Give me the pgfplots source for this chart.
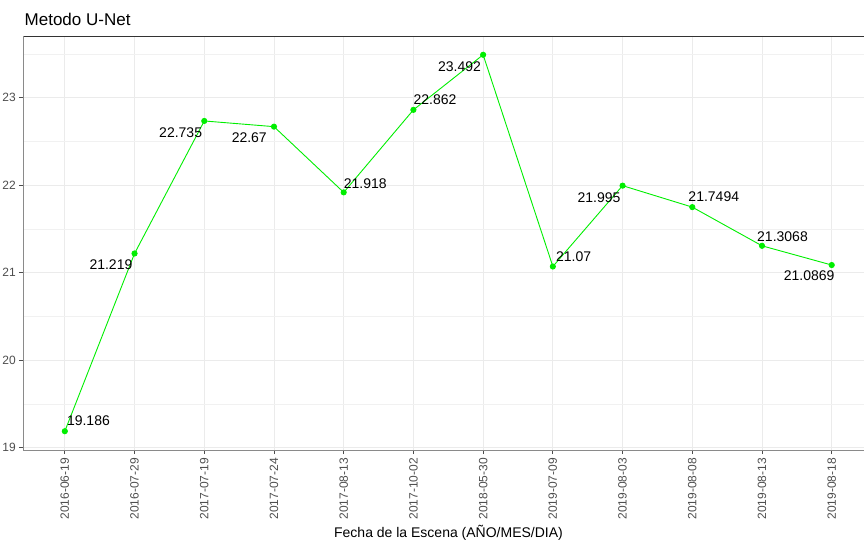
\documentclass[border=0pt]{standalone}
\usepackage{pgfplots}
\usepackage{pgfplotstable}
\pgfplotsset{compat=1.18}
\usepackage{fontspec}
\setmainfont{Liberation Sans}
\definecolor{gridc}{HTML}{EBEBEB}
\definecolor{tickc}{HTML}{4D4D4D}
\definecolor{ggreen}{HTML}{00EE00}
\definecolor{topc}{HTML}{333333}
\definecolor{sidec}{HTML}{8A8A8A}
\pgfplotstableread[col sep=comma]{
x,y,anc,dx,dy,lbl
0,19.186,south west,2,5,19.186
1,21.219,north east,-2,-6,21.219
2,22.735,north east,-2,-7,22.735
3,22.67,north east,-7,-6,22.67
4,21.918,south west,0,4,21.918
5,22.862,south west,0,5,22.862
6,23.492,north east,-2,-7,23.492
7,21.07,south west,3,5,21.07
8,21.995,north east,-2,-7,21.995
9,21.7494,south west,-4,5,21.7494
10,21.3068,south west,-5,4,21.3068
11,21.0869,north east,3,-5,21.0869
}\data
\begin{document}
\begin{tikzpicture}
\begin{axis}[
  name=ax, at={(0,0)}, anchor=south west,
  scale only axis, width=841bp, height=414bp,
  xmin=-0.6, xmax=11.463, ymin=18.971, ymax=23.707,
  axis line style={draw=none},
  xtick={0,1,2,3,4,5,6,7,8,9,10,11},
  xticklabels={2016-06-19,2016-07-29,2017-07-19,2017-07-24,2017-08-13,2017-10-02,2018-05-30,2019-07-09,2019-08-03,2019-08-08,2019-08-13,2019-08-18},
  ytick={19,20,21,22,23},
  yticklabels={19,20,21,22,23},
  minor ytick={19.5,20.5,21.5,22.5,23.5},
  grid=both,
  major grid style={gridc, line width=0.9bp},
  minor grid style={gridc!70!white, line width=0.5bp},
  tick align=outside, tick pos=left,
  major tick length=4bp, minor tick length=0pt,
  tick style={tickc, line width=0.9bp},
  xticklabel style={rotate=90, anchor=east, inner xsep=4bp, inner ysep=0pt, text=tickc, font=\fontsize{12bp}{14bp}\selectfont},
  yticklabel style={anchor=east, inner xsep=3bp, inner ysep=0pt, text=tickc, font=\fontsize{12bp}{14bp}\selectfont},
  clip=false,
]
\addplot[color=ggreen, line width=0.9bp, mark=*, mark size=2.6bp,
  mark options={fill=ggreen, draw=ggreen}] table[x=x, y=y] {\data};
\pgfplotsinvokeforeach{0,...,11}{
  \pgfplotstablegetelem{#1}{y}\of\data \let\myy\pgfplotsretval
  \pgfplotstablegetelem{#1}{anc}\of\data \let\myanc\pgfplotsretval
  \pgfplotstablegetelem{#1}{dx}\of\data \let\mydx\pgfplotsretval
  \pgfplotstablegetelem{#1}{dy}\of\data \let\mydy\pgfplotsretval
  \pgfplotstablegetelem{#1}{lbl}\of\data \let\mylbl\pgfplotsretval
  \edef\mytmp{\noexpand\node[anchor=\myanc, inner sep=0pt, xshift=\mydx bp, yshift=\mydy bp, font=\noexpand\fontsize{14bp}{16bp}\noexpand\selectfont] at (axis cs:#1,\myy) {\mylbl};}
  \mytmp
}
\end{axis}
\draw[topc, line width=0.9bp] (ax.north west) -- (ax.north east);
\draw[sidec, line width=0.9bp] (ax.north west) -- (ax.south west) -- (ax.south east);
\node[anchor=base west, inner sep=0pt, font=\fontsize{17bp}{20bp}\selectfont] at ([xshift=1.5bp, yshift=10bp]ax.north west) {Metodo U-Net};
\node[anchor=base, inner sep=0pt, font=\fontsize{14bp}{16bp}\selectfont] at ([xshift=425.5bp, yshift=-87bp]ax.south west) {Fecha de la Escena (AÑO/MES/DIA)};
\pgfresetboundingbox
\path[use as bounding box] ([xshift=-23bp, yshift=-90bp]ax.south west) rectangle ([yshift=36bp]ax.north east);
\end{tikzpicture}
\end{document}
